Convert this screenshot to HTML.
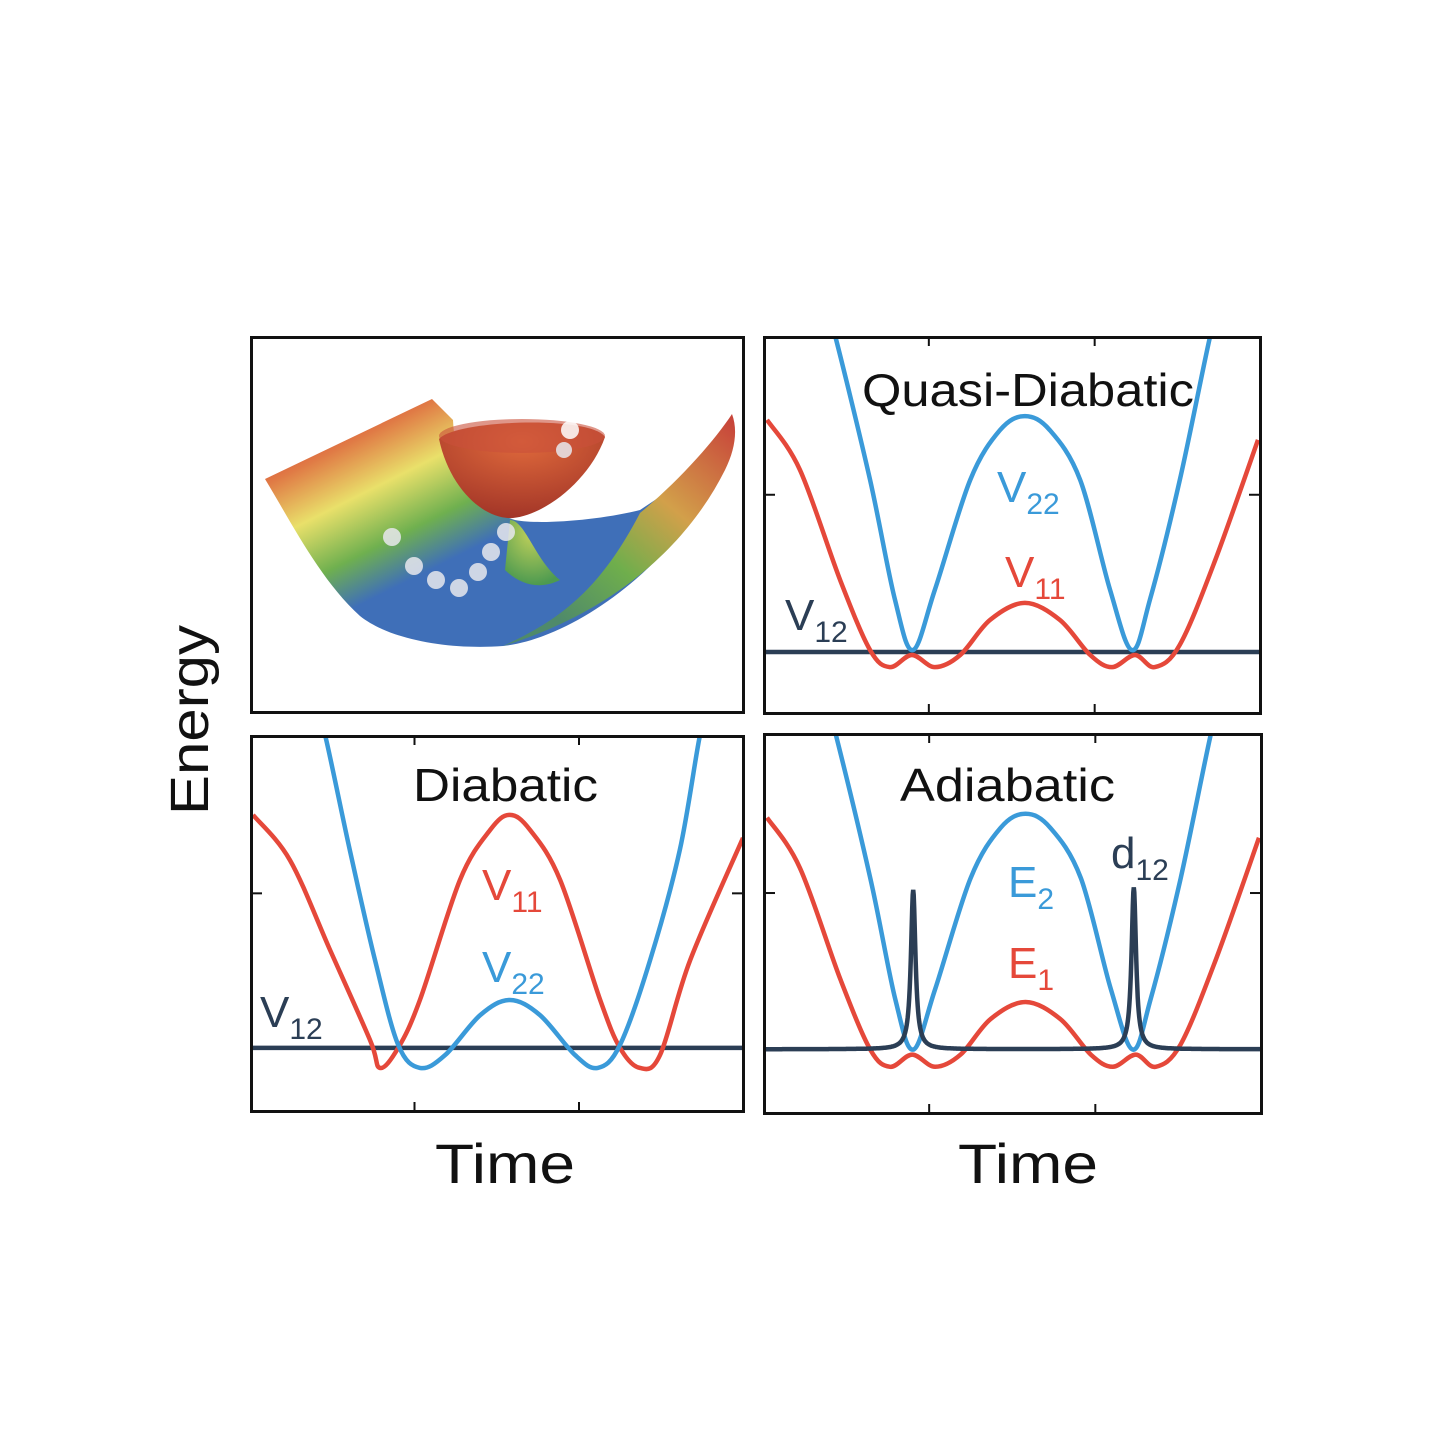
<!DOCTYPE html>
<html><head><meta charset="utf-8">
<style>
html,body{margin:0;padding:0;background:#fff;}
svg{display:block;font-family:"Liberation Sans","DejaVu Sans",sans-serif;}
</style></head>
<body>
<svg id="fig" width="1440" height="1440" viewBox="0 0 1440 1440">
<defs>
<linearGradient id="gMain" x1="320" y1="420" x2="420" y2="620" gradientUnits="userSpaceOnUse">
<stop offset="0" stop-color="#d9473a"/><stop offset="0.15" stop-color="#e07a45"/><stop offset="0.38" stop-color="#e9e06a"/><stop offset="0.62" stop-color="#6fb04f"/><stop offset="0.82" stop-color="#3f6fb8"/><stop offset="1" stop-color="#3f6fb8"/>
</linearGradient>
<linearGradient id="gWing" x1="730" y1="420" x2="560" y2="620" gradientUnits="userSpaceOnUse">
<stop offset="0" stop-color="#c8453a"/><stop offset="0.4" stop-color="#d2a04a"/><stop offset="0.7" stop-color="#6fae4c"/><stop offset="1" stop-color="#4f8a6a"/>
</linearGradient>
<radialGradient id="gBowl" cx="0.5" cy="0.2" r="0.9">
<stop offset="0" stop-color="#e06a3c"/><stop offset="1" stop-color="#9b2f25"/>
</radialGradient>
<radialGradient id="gCone" cx="0.5" cy="0.2" r="0.8">
<stop offset="0" stop-color="#c3d25a"/><stop offset="1" stop-color="#4d9a50"/>
</radialGradient>
<clipPath id="cTR"><rect x="763" y="336" width="498" height="378"/></clipPath>
<clipPath id="cBL"><rect x="250" y="735" width="494" height="377"/></clipPath>
<clipPath id="cBR"><rect x="763" y="733" width="499" height="381"/></clipPath>
</defs>

<g>
<path d="M265,479 L432,399 L453,420 C455,470 480,510 515,520 C540,525 600,520 640,510 L700,470 L690,520 C640,590 560,640 503,646 C450,650 390,640 360,616 C320,580 290,520 265,479 Z" fill="url(#gMain)"/>
<path d="M510,520 C525,520 535,560 560,580 C540,590 520,585 505,570 Z" fill="url(#gCone)"/>
<path d="M732,414 C738,430 735,450 725,470 C690,540 620,610 503,646 C560,620 600,590 640,513 C680,480 715,440 732,414 Z" fill="url(#gWing)"/>
<path d="M439,439 C450,490 485,520 513,518 C545,515 590,480 605,437 C590,415 455,420 439,439 Z" fill="url(#gBowl)"/>
<ellipse cx="522" cy="436" rx="83" ry="17" fill="#c9503a" opacity="0.6"/>
<g fill="#e8e8ee" opacity="0.85">
<circle cx="392" cy="537" r="9"/><circle cx="414" cy="566" r="9"/><circle cx="436" cy="580" r="9"/>
<circle cx="459" cy="588" r="9"/><circle cx="478" cy="572" r="9"/><circle cx="491" cy="552" r="9"/>
<circle cx="506" cy="532" r="9"/><circle cx="570" cy="430" r="9" fill="#fff"/><circle cx="564" cy="450" r="8"/>
</g>
</g>

<g id="plots"></g>

<rect x="251.5" y="337.5" width="492" height="375" fill="none" stroke="#111" stroke-width="3"/>
<rect x="764.5" y="337.5" width="496" height="376" fill="none" stroke="#111" stroke-width="3"/>
<rect x="251.5" y="736.5" width="492" height="375" fill="none" stroke="#111" stroke-width="3"/>
<rect x="764.5" y="734.5" width="497" height="379" fill="none" stroke="#111" stroke-width="3"/>

<text x="208" y="720" transform="rotate(-90 208 720)" text-anchor="middle" font-size="54" textLength="190" lengthAdjust="spacingAndGlyphs" fill="#111">Energy</text>
<text x="505" y="1183" text-anchor="middle" font-size="56" textLength="140" lengthAdjust="spacingAndGlyphs" fill="#111">Time</text>
<text x="1028" y="1183" text-anchor="middle" font-size="56" textLength="140" lengthAdjust="spacingAndGlyphs" fill="#111">Time</text>
</svg>
<script>
const qdRedT = [0.8,7.4,15.5,21.5,25.5,29.9,34.5,39.6,45.6,52.6,59.6,65.7,70.1,74.7,78.7,83.7,90.8,99.4];
const qdRedE = [77.8,64.6,35.4,16.9,12.4,15.6,12.4,15.6,24.9,29.4,24.9,15.6,12.4,15.6,12.4,18.3,40.7,72.5];
const qdBlueT = [12.5,14.5,21.5,26.5,30.1,34.5,41.6,47.6,52.6,57.6,63.7,69.7,74.1,77.7,83.7,89.8,91.8];
const qdBlueE = [108,100,61.9,30.2,16.9,32.8,61.9,75.1,78.8,75.1,61.9,32.8,16.9,30.2,61.9,100,108];
const qdCoupling = 16.4;

const diRedT = [0.6,8.1,16.2,24.3,26.3,30.0,34.4,42.5,48.6,52.6,56.7,62.8,70.9,74.9,78.9,83.0,89.1,99.8];
const diRedE = [78.8,66.8,43.0,19.1,11.7,17.0,29.7,61.5,74.8,78.8,74.8,61.5,29.7,17.0,11.7,15.1,40.3,72.7];
const diBlueT = [13.2,15.2,20.2,25.3,30.0,34.4,39.5,46.6,52.6,58.7,65.8,70.4,74.9,81.0,87.0,91.1,93.1];
const diBlueE = [108,100,69.5,40.3,17.8,11.7,15.1,25.7,29.7,25.7,15.1,11.7,17.8,40.3,69.5,100,108];
const diCoupling = 17.0;

const adSpikeT = [30.1,74.3];
const adSpikeH = [58.8,59.5];
const adBaseline = 17.0;

const ticksX = [33.3,66.6];
const tickY = [58];

function mkScale(x0,w,y0,h){return {x:t=>x0+t/100*w, y:e=>y0+h-e/100*h};}
function pathFrom(s,T,E){
  const P=T.map((t,i)=>[s.x(t),s.y(E[i])]);
  let d='M'+P[0][0].toFixed(1)+','+P[0][1].toFixed(1);
  for(let i=0;i<P.length-1;i++){
    const p0=P[i-1]||P[i],p1=P[i],p2=P[i+1],p3=P[i+2]||P[i+1];
    const c1=[p1[0]+(p2[0]-p0[0])/6,p1[1]+(p2[1]-p0[1])/6];
    const c2=[p2[0]-(p3[0]-p1[0])/6,p2[1]-(p3[1]-p1[1])/6];
    d+=' C'+c1.map(v=>v.toFixed(1))+' '+c2.map(v=>v.toFixed(1))+' '+p2[0].toFixed(1)+','+p2[1].toFixed(1);
  }
  return d;
}
const NS='http://www.w3.org/2000/svg';
const root=document.getElementById('plots');
function addPath(g,d,color,name){
  const p=document.createElementNS(NS,'path');
  p.setAttribute('d',d);p.setAttribute('fill','none');p.setAttribute('stroke',color);p.setAttribute('stroke-width','4.5');
  
  
  g.appendChild(p);
}
function addText(parent,x,y,main,sub,color,name,size,len){
  const t=document.createElementNS(NS,'text');
  t.setAttribute('x',x);t.setAttribute('y',y);t.setAttribute('fill',color);t.setAttribute('font-size',size||44);
  if(len){t.setAttribute('textLength',len);t.setAttribute('lengthAdjust','spacingAndGlyphs');}
  
  
  t.innerHTML=main+(sub?'<tspan font-size="30" dy="12">'+sub+'</tspan>':'');
  parent.appendChild(t);
}
function addTicks(s,x0,y0,w,h,name){
  const g=document.createElementNS(NS,'g');
  
  
  ticksX.forEach(t=>{
    [[y0,y0+10],[y0+h,y0+h-10]].forEach(([a,b])=>{
      const l=document.createElementNS(NS,'line');
      l.setAttribute('x1',s.x(t));l.setAttribute('x2',s.x(t));l.setAttribute('y1',a);l.setAttribute('y2',b);
      l.setAttribute('stroke','#111');l.setAttribute('stroke-width','2');g.appendChild(l);
    });
  });
  tickY.forEach(e=>{
    [[x0,x0+12],[x0+w,x0+w-12]].forEach(([a,b])=>{
      const l=document.createElementNS(NS,'line');
      l.setAttribute('y1',s.y(e));l.setAttribute('y2',s.y(e));l.setAttribute('x1',a);l.setAttribute('x2',b);
      l.setAttribute('stroke','#111');l.setAttribute('stroke-width','2');g.appendChild(l);
    });
  });
  root.appendChild(g);
}
const RED='#e5483a',BLUE='#3a9ad9',NAVY='#2b3e55';

(function(){
  const s=mkScale(763,498,336,378);
  const g=document.createElementNS(NS,'g');g.setAttribute('clip-path','url(#cTR)');
  
  
  addPath(g,'M763,'+s.y(qdCoupling)+' H1261',NAVY,'v12-line');
  addPath(g,pathFrom(s,qdRedT,qdRedE),RED,'v11-curve');
  addPath(g,pathFrom(s,qdBlueT,qdBlueE),BLUE,'v22-curve');
  root.appendChild(g);
  addTicks(s,763,336,498,378,'quasi-diabatic-ticks');
  addText(root,862,406,'Quasi-Diabatic','', '#111','quasi-diabatic-title',46,332);
  addText(root,997,502,'V','22',BLUE,'v22-label');
  addText(root,1005,587,'V','11',RED,'v11-label');
  addText(root,785,630,'V','12',NAVY,'v12-label');
})();

(function(){
  const s=mkScale(250,494,735,377);
  const g=document.createElementNS(NS,'g');g.setAttribute('clip-path','url(#cBL)');
  
  
  addPath(g,'M250,'+s.y(diCoupling)+' H744',NAVY,'v12-line');
  addPath(g,pathFrom(s,diRedT,diRedE),RED,'v11-curve');
  addPath(g,pathFrom(s,diBlueT,diBlueE),BLUE,'v22-curve');
  root.appendChild(g);
  addTicks(s,250,735,494,377,'diabatic-ticks');
  addText(root,413,801,'Diabatic','', '#111','diabatic-title',46,185);
  addText(root,482,900,'V','11',RED,'v11-label');
  addText(root,482,982,'V','22',BLUE,'v22-label');
  addText(root,260,1027,'V','12',NAVY,'v12-label');
})();

(function(){
  const s=mkScale(763,499,733,381);
  const g=document.createElementNS(NS,'g');g.setAttribute('clip-path','url(#cBR)');
  
  
  addPath(g,pathFrom(s,qdRedT,qdRedE),RED,'e1-curve');
  addPath(g,pathFrom(s,qdBlueT,qdBlueE),BLUE,'e2-curve');
  const T=[],E=[];
  for(let t=0;t<=100;t+=0.1){
    let e=adBaseline;
    adSpikeT.forEach((c,i)=>{const w=0.55;e+=(adSpikeH[i]-adBaseline)/(1+((t-c)/w)**2);});
    T.push(t);E.push(e);
  }
  let d='';T.forEach((t,i)=>{d+=(i?'L':'M')+s.x(t).toFixed(1)+','+s.y(E[i]).toFixed(1);});
  addPath(g,d,NAVY,'d12-curve');
  root.appendChild(g);
  addTicks(s,763,733,499,381,'adiabatic-ticks');
  addText(root,900,801,'Adiabatic','', '#111','adiabatic-title',46,215);
  addText(root,1008,897,'E','2',BLUE,'e2-label');
  addText(root,1008,978,'E','1',RED,'e1-label');
  addText(root,1111,868,'d','12',NAVY,'d12-label');
})();
</script>
</body></html>
